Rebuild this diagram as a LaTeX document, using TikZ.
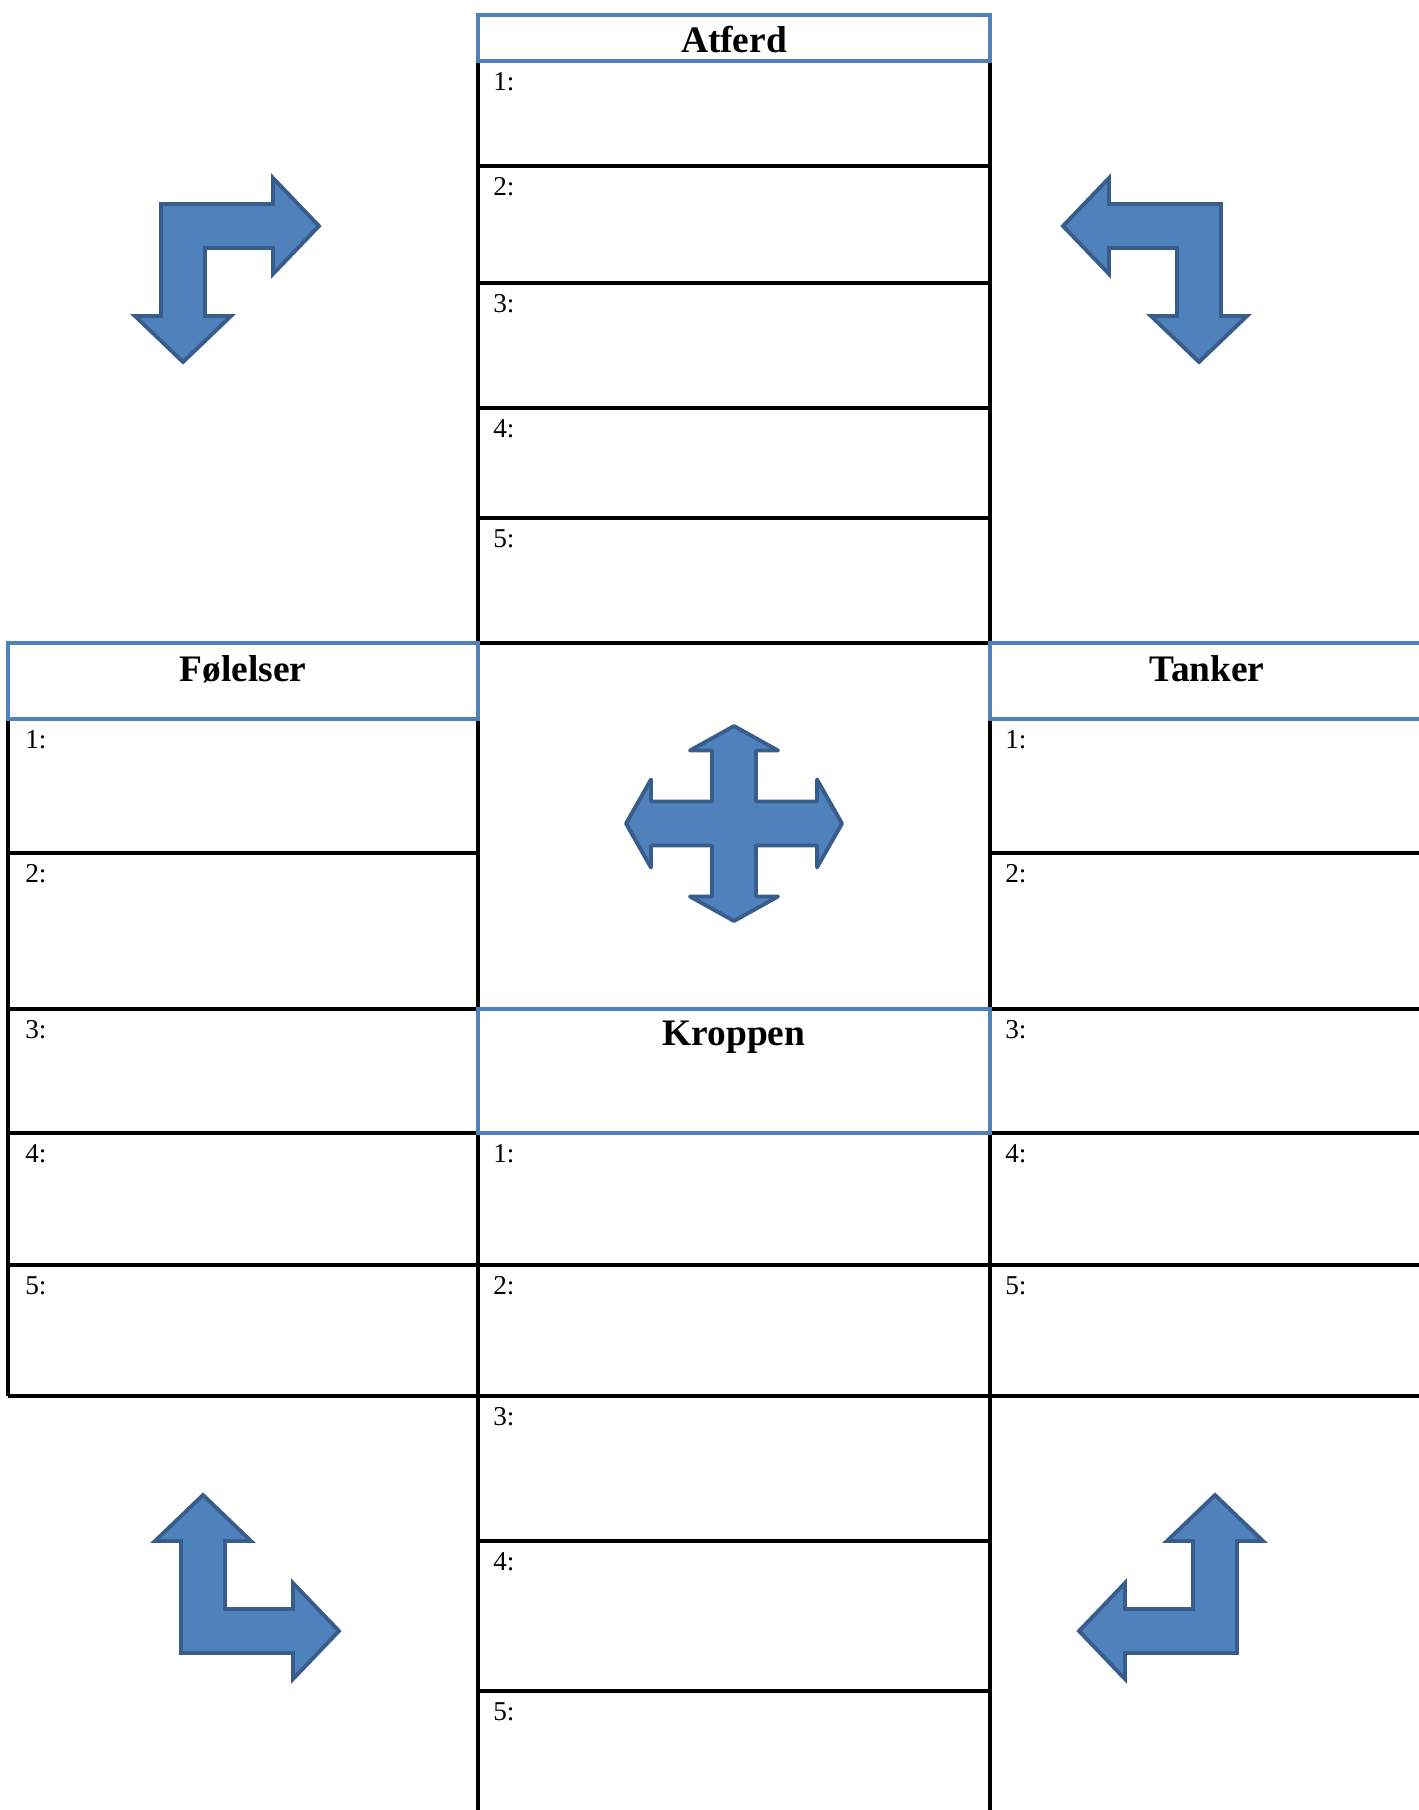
\documentclass[tikz,border=0pt]{standalone}
\usepackage{fontspec}
\setmainfont{Liberation Serif}
\usepackage{tikz}
\usetikzlibrary{calc}

\definecolor{hdrblue}{HTML}{4F81BD}
\definecolor{arrowfill}{HTML}{4F81BD}
\definecolor{arrowline}{HTML}{385D8A}

\tikzset{
    bentarrow/.pic={
        \draw[bent] (1,1) -- (113,1) -- (113,-25) -- (159,23) -- (113,71) -- (113,45)
            -- (45,45) -- (45,113) -- (71,113) -- (23,159) -- (-25,113) -- (1,113) -- cycle;
    }
}

\begin{document}
\begin{tikzpicture}[
        x=0.02cm, y=-0.02cm,
        grid/.style={line width=2pt, black},
        header/.style={line width=2pt, draw=hdrblue},
        title/.style={font=\fontsize{21.3}{26}\selectfont\bfseries, anchor=base, inner sep=0pt},
        num/.style={font=\fontsize{15.5}{19}\selectfont, anchor=base west, inner sep=0pt},
        bent/.style={fill=arrowfill, draw=arrowline, line width=2.2pt},
        cross/.style={fill=arrowfill, draw=arrowline, line width=2.2pt, line join=round}
    ]
        \useasboundingbox (0,0) rectangle (1419,1810);
        \clip (0,0) rectangle (1419,1810);

        % Grid lines
        \draw[grid] (478,61) -- (478,1820);
        \draw[grid] (990,61) -- (990,1820);
        \draw[grid] (8,719) -- (8,1396);
        \draw[grid] (478,166) -- (990,166);
        \draw[grid] (478,283) -- (990,283);
        \draw[grid] (478,408) -- (990,408);
        \draw[grid] (478,518) -- (990,518);
        \draw[grid] (478,643) -- (990,643);
        \draw[grid] (8,853) -- (478,853);
        \draw[grid] (990,853) -- (1430,853);
        \draw[grid] (8,1009) -- (1430,1009);
        \draw[grid] (8,1133) -- (1430,1133);
        \draw[grid] (8,1265) -- (1430,1265);
        \draw[grid] (8,1396) -- (1430,1396);
        \draw[grid] (478,1541) -- (990,1541);
        \draw[grid] (478,1691) -- (990,1691);

        % Headers
        \draw[header] (478,15) rectangle (990,61);
        \draw[header] (8,643) rectangle (478,719);
        \draw[header] (990,643) rectangle (1430,719);
        \draw[header] (478,1009) rectangle (990,1133);
        \node[title] (atferd) at (734,52) {Atferd};
        \node[title] (folelser) at (243,681) {Følelser};
        \node[title] (tanker) at (1207,681) {Tanker};
        \node[title] (kroppen) at (734,1045) {Kroppen};

        % Numbered rows
        \node[num] (a1) at (493,90) {1:};
        \node[num] (a2) at (493,195) {2:};
        \node[num] (a3) at (493,312) {3:};
        \node[num] (a4) at (493,437) {4:};
        \node[num] (a5) at (493,547) {5:};
        \node[num] (f1) at (25,748) {1:};
        \node[num] (f2) at (25,882) {2:};
        \node[num] (f3) at (25,1038) {3:};
        \node[num] (f4) at (25,1162) {4:};
        \node[num] (f5) at (25,1294) {5:};
        \node[num] (t1) at (1005,748) {1:};
        \node[num] (t2) at (1005,882) {2:};
        \node[num] (t3) at (1005,1038) {3:};
        \node[num] (t4) at (1005,1162) {4:};
        \node[num] (t5) at (1005,1294) {5:};
        \node[num] (k1) at (493,1162) {1:};
        \node[num] (k2) at (493,1294) {2:};
        \node[num] (k3) at (493,1425) {3:};
        \node[num] (k4) at (493,1570) {4:};
        \node[num] (k5) at (493,1720) {5:};

        % Bent arrows
        \pic at (160,203) {bentarrow};
        \pic[xscale=-1] at (1222,203) {bentarrow};
        \pic[yscale=-1] at (180,1654) {bentarrow};
        \pic[xscale=-1, yscale=-1] at (1238,1654) {bentarrow};

        % Cross arrow
        \begin{scope}[shift={(734,823.5)}]
            \draw[cross] (0,-97.5) -- (44,-73) -- (22,-73) -- (22,-22) -- (83,-22) -- (83,-44)
                -- (108,0) -- (83,44) -- (83,22) -- (22,22) -- (22,73) -- (44,73)
                -- (0,97.5) -- (-44,73) -- (-22,73) -- (-22,22) -- (-83,22) -- (-83,44)
                -- (-108,0) -- (-83,-44) -- (-83,-22) -- (-22,-22) -- (-22,-73) -- (-44,-73) -- cycle;
        \end{scope}
    \end{tikzpicture}
\end{document}
